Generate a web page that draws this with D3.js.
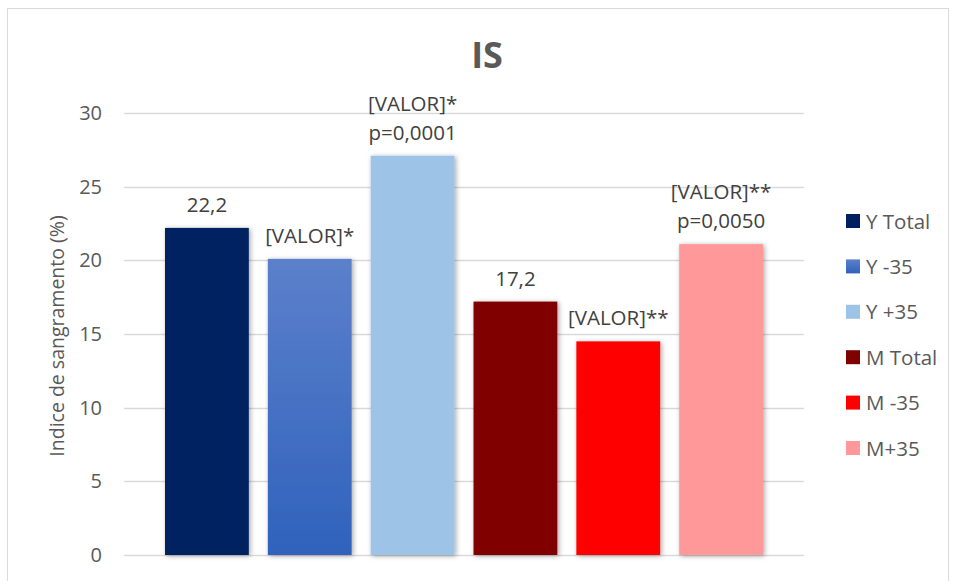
<!DOCTYPE html>
<html>
<head>
<meta charset="utf-8">
<script src="https://cdn.jsdelivr.net/npm/d3@7"></script>
<style>
  body { margin: 0; background: #fff; }
  text { font-family: "Open Sans", "Liberation Sans", sans-serif; fill: #595959; }
</style>
</head>
<body>
<div id="chart"></div>
<script>
// Data
const series = ['Y Total', 'Y -35', 'Y +35', 'M Total', 'M -35', 'M+35'];
const values = [22.2, 20.1, 27.1, 17.2, 14.5, 21.1];
const labels = [['22,2'], ['[VALOR]*'], ['[VALOR]*', 'p=0,0001'], ['17,2'], ['[VALOR]**'], ['[VALOR]**', 'p=0,0050']];
const colors = ['#002060', 'url(#gradY35)', '#9dc3e6', '#800000', '#ff0000', '#ff9999'];
const yTicks = [0, 5, 10, 15, 20, 25, 30];

const W = 956, H = 581;
const plot = { left: 124, right: 804, top: 113, bottom: 555 };

const svg = d3.select('#chart').append('svg')
  .attr('width', W).attr('height', H);

const defs = svg.append('defs');
const grad = defs.append('linearGradient').attr('id', 'gradY35')
  .attr('x1', 0).attr('y1', 0).attr('x2', 0).attr('y2', 1);
grad.append('stop').attr('offset', '0%').attr('stop-color', '#5c80cb');
grad.append('stop').attr('offset', '100%').attr('stop-color', '#2f62bc');

const shadow = defs.append('filter').attr('id', 'shadow')
  .attr('x', '-20%').attr('y', '-5%').attr('width', '140%').attr('height', '110%');
shadow.append('feDropShadow').attr('dx', 1.5).attr('dy', 1).attr('stdDeviation', 2.5)
  .attr('flood-color', '#000').attr('flood-opacity', 0.35);

// chart border
svg.append('rect')
  .attr('x', 7.5).attr('y', 8.5).attr('width', 941).attr('height', 580)
  .attr('fill', 'none').attr('stroke', '#d9d9d9');

const y = d3.scaleLinear().domain([0, 30]).range([plot.bottom, plot.top]);
const x = d3.scaleBand().domain(series)
  .range([plot.left + 41, plot.right - 41]).paddingInner(0.185).paddingOuter(0);

// gridlines
svg.append('g').selectAll('line').data(yTicks).join('line')
  .attr('x1', plot.left).attr('x2', plot.right)
  .attr('y1', d => Math.round(y(d)) + 0.5).attr('y2', d => Math.round(y(d)) + 0.5)
  .attr('stroke', '#d9d9d9').attr('stroke-width', 1.3);

// y axis labels
const yAxis = svg.append('g')
  .attr('transform', `translate(${plot.left - 22},0)`)
  .call(d3.axisLeft(y).tickValues(yTicks).tickSize(0).tickPadding(0));
yAxis.select('.domain').remove();
yAxis.selectAll('text').style('font-size', '20px').attr('fill', '#595959')
  .style('font-family', '"Open Sans", sans-serif');

svg.append('text')
  .attr('transform', `translate(64,${(plot.top + plot.bottom) / 2 + 2}) rotate(-90)`)
  .attr('text-anchor', 'middle').style('font-size', '19.5px')
  .text('Indice de sangramento (%)');

// bars
svg.append('g').selectAll('rect').data(values).join('rect')
  .attr('x', (d, i) => x(series[i]))
  .attr('y', d => y(d))
  .attr('width', x.bandwidth())
  .attr('height', d => y(0) - y(d))
  .attr('fill', (d, i) => colors[i])
  .attr('filter', 'url(#shadow)');

// data labels
const lab = svg.append('g').selectAll('text').data(values).join('text')
  .attr('text-anchor', 'middle')
  .attr('x', (d, i) => x(series[i]) + x.bandwidth() / 2)
  .style('font-size', '20.5px').style('fill', '#404040');
lab.each(function (d, i) {
  const lines = labels[i];
  const base = y(d) - 16 - (lines.length - 1) * 29;
  d3.select(this).selectAll('tspan').data(lines).join('tspan')
    .attr('x', x(series[i]) + x.bandwidth() / 2)
    .attr('y', (t, j) => base + j * 29)
    .text(t => t);
});

// title
svg.append('text')
  .attr('x', 487).attr('y', 68).attr('text-anchor', 'middle')
  .style('font-size', '36px').style('font-weight', 'bold')
  .text('IS');

// legend
const legend = svg.append('g').selectAll('g').data(series).join('g')
  .attr('transform', (d, i) => `translate(846,${221 + i * 45.4})`);
legend.append('rect')
  .attr('x', 0).attr('y', -7).attr('width', 14).attr('height', 14)
  .attr('fill', (d, i) => colors[i]);
legend.append('text')
  .attr('x', 20).attr('y', 7.5)
  .style('font-size', '20.5px')
  .text(d => d);
</script>
</body>
</html>
